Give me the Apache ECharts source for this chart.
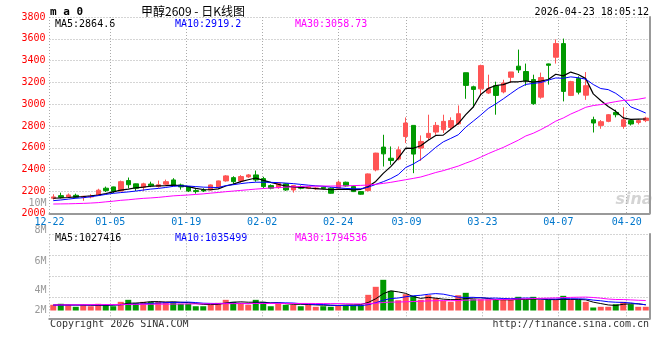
<!DOCTYPE html>
<html><head><meta charset="utf-8">
<script src="https://cdn.jsdelivr.net/npm/echarts@6/dist/echarts.min.js"></script>
<style>html,body{margin:0;padding:0;background:#fff}#c{width:660px;height:360px}</style>
</head><body><div id="c"></div>
<script>
const dates = ['12-22','12-23','12-24','12-25','12-26','12-29','12-30','12-31',
'01-05','01-06','01-07','01-08','01-09','01-12','01-13','01-14','01-15','01-16','01-19','01-20','01-21','01-22','01-23','01-26','01-27','01-28','01-29','01-30',
'02-02','02-03','02-04','02-05','02-06','02-09','02-10','02-11','02-12','02-13','02-24','02-25','02-26','02-27',
'03-02','03-03','03-04','03-05','03-06','03-09','03-10','03-11','03-12','03-13','03-16','03-17','03-18','03-19','03-20','03-23','03-24','03-25','03-26','03-27','03-30','03-31',
'04-01','04-02','04-03','04-07','04-08','04-09','04-10','04-13','04-14','04-15','04-16','04-17','04-20','04-21','04-22','04-23'];
const tickLabels = ['12-22','01-05','01-19','02-02','02-24','03-09','03-23','04-07','04-20'];

const opens = [2138,2162,2150,2165,2147,2150,2165,2230,2242,2205,
2300,2270,2240,2268,2245,2267,2306,2260,2245,2208,
2214,2214,2242,2297,2327,2297,2334,2352,2318,2254,
2235,2270,2214,2245,2230,2225,2238,2230,2230,2285,
2245,2199,2208,2398,2607,2505,2497,2704,2806,2598,
2695,2745,2766,2788,2820,3289,3160,3141,3103,3170,
3113,3247,3349,3300,3226,3065,3370,3431,3556,3081,
3235,3083,2858,2806,2843,2925,2797,2850,2833,2850];
const closes = [2150,2147,2168,2147,2156,2156,2212,2208,2200,2290,
2262,2230,2270,2252,2262,2290,2260,2242,2205,2199,
2205,2260,2297,2343,2290,2337,2352,2306,2245,2230,
2276,2214,2254,2230,2243,2232,2228,2184,2285,2251,
2199,2175,2361,2552,2545,2484,2582,2828,2543,2659,
2733,2806,2843,2850,2913,3173,3136,3354,3143,3081,
3195,3296,3315,3215,3005,3245,3357,3556,3118,3207,
3111,3170,2828,2840,2904,2904,2858,2819,2850,2873];
const lows = [2125,2137,2140,2138,2115,2138,2160,2195,2185,2200,
2230,2205,2205,2240,2235,2254,2250,2217,2195,2180,
2195,2210,2235,2290,2270,2280,2325,2290,2230,2220,
2225,2205,2190,2220,2222,2215,2220,2180,2225,2245,
2195,2170,2200,2385,2429,2444,2485,2644,2368,2481,
2674,2720,2736,2766,2812,3050,2971,3078,3094,2904,
3100,3195,3287,3170,2995,3050,3180,3373,3026,3075,
3090,3040,2741,2775,2835,2880,2775,2805,2815,2836];
const highs = [2175,2189,2182,2180,2160,2175,2225,2245,2245,2300,
2328,2272,2280,2290,2300,2309,2322,2272,2250,2222,
2230,2265,2300,2350,2340,2350,2360,2392,2335,2265,
2285,2275,2260,2255,2250,2240,2245,2238,2300,2290,
2255,2205,2365,2555,2720,2613,2613,2879,2806,2714,
2904,2837,2904,2880,2989,3289,3170,3363,3271,3207,
3225,3296,3501,3373,3271,3290,3373,3595,3602,3215,
3256,3295,2886,2855,2910,2950,2972,2858,2862,2885];

const ma5 = [2138,2141,2145,2150,2154,2159,2168,2180,2196,2212,
2222,2234,2240,2248,2252,2254,2258,2254,2245,2228,
2218,2216,2224,2250,2268,2291,2308,2324,2302,2283,
2266,2250,2242,2238,2232,2227,2222,2218,2220,2222,
2215,2220,2245,2292,2366,2428,2505,2598,2596,2619,
2669,2714,2717,2770,2823,2905,2975,3090,3145,3172,
3180,3205,3206,3215,3203,3212,3227,3275,3260,3295,
3273,3235,3095,3035,2980,2935,2875,2862,2864,2864.6];
const ma10 = [2116,2122,2130,2138,2143,2152,2162,2173,2183,2190,
2196,2204,2213,2222,2228,2237,2247,2252,2250,2245,
2240,2238,2236,2254,2262,2272,2280,2285,2285,2284,
2281,2277,2272,2265,2258,2252,2248,2240,2234,2228,
2225,2225,2240,2265,2290,2318,2355,2420,2452,2493,
2546,2605,2655,2687,2720,2790,2845,2901,2961,3003,
3049,3098,3146,3182,3191,3199,3221,3241,3238,3251,
3243,3230,3181,3144,3134,3100,3050,2976,2949,2919.2];
const ma30 = [2085,2086,2087,2089,2091,2094,2098,2105,2111,2119,
2124,2131,2137,2141,2146,2153,2160,2164,2168,2173,
2178,2185,2191,2198,2204,2210,2216,2222,2227,2232,
2236,2240,2243,2246,2248,2249,2250,2250,2251,2252,
2254,2256,2259,2266,2274,2284,2296,2308,2320,2333,
2353,2374,2391,2412,2433,2460,2485,2515,2547,2576,
2604,2637,2670,2709,2734,2767,2804,2845,2874,2910,
2940,2972,2988,2997,3011,3024,3035,3037,3046,3058.73];

const volumes = [1030000,1210000,1030000,670000,1030000,770000,1210000,1030000,770000,1560000,
1920000,1380000,1560000,1560000,1560000,1560000,1560000,1210000,1210000,770000,
770000,1030000,1380000,1920000,1560000,1380000,1030000,1920000,1560000,770000,
1210000,1030000,1030000,770000,1030000,670000,770000,670000,950000,950000,
950000,950000,2820000,4260000,5520000,3540000,1850000,2930000,2640000,1920000,
2750000,2210000,1740000,1560000,2750000,3180000,2030000,2030000,2030000,2030000,
2030000,1920000,2460000,1920000,2460000,1920000,1920000,1920000,2640000,1920000,
1920000,1560000,540000,670000,670000,1130000,1560000,1130000,670000,670000];
const volMa5 = [1000000,1020000,1010000,990000,990000,940000,940000,940000,960000,1070000,
1300000,1330000,1440000,1600000,1600000,1520000,1560000,1490000,1420000,1260000,
1100000,1070000,1100000,1330000,1490000,1560000,1490000,1490000,1490000,1370000,
1400000,1230000,1120000,1120000,1080000,1010000,960000,940000,920000,980000,
1020000,1070000,1450000,2110000,3020000,3540000,3350000,3080000,2500000,2180000,
2360000,2220000,2040000,1960000,1960000,2160000,2220000,2310000,2170000,1940000,
1940000,1910000,2000000,1980000,2060000,2060000,1960000,1960000,1990000,1990000,
1990000,1920000,1500000,1250000,1000000,910000,1120000,1210000,1210000,1027416];
const volMa10 = [960000,970000,980000,990000,1000000,1000000,1010000,1020000,1020000,1030000,
1120000,1140000,1190000,1280000,1330000,1410000,1450000,1460000,1510000,1430000,
1310000,1280000,1260000,1300000,1300000,1280000,1230000,1300000,1330000,1330000,
1380000,1380000,1340000,1230000,1170000,1100000,1080000,950000,890000,910000,
880000,870000,1050000,1400000,1850000,2140000,2250000,2470000,2640000,2740000,
2920000,3040000,2940000,2670000,2390000,2350000,2370000,2280000,2220000,2230000,
2160000,2130000,2200000,2240000,2210000,2080000,2070000,2060000,2120000,2110000,
2100000,2060000,1870000,1750000,1570000,1490000,1450000,1370000,1180000,1035499];
const volMa30 = [1000000,1010000,1020000,1030000,1040000,1050000,1060000,1070000,1080000,1090000,
1100000,1110000,1120000,1130000,1140000,1150000,1160000,1170000,1180000,1190000,
1200000,1210000,1220000,1230000,1240000,1250000,1250000,1260000,1260000,1260000,
1270000,1260000,1260000,1270000,1270000,1260000,1250000,1240000,1240000,1220000,
1190000,1180000,1220000,1310000,1440000,1510000,1520000,1570000,1620000,1660000,
1730000,1760000,1780000,1760000,1800000,1860000,1900000,1900000,1920000,1960000,
1990000,2020000,2060000,2100000,2150000,2190000,2230000,2270000,2330000,2360000,
2390000,2410000,2340000,2220000,2060000,1980000,1970000,1910000,1840000,1794536];

const volTickLabels = ['2M','4M','6M','8M','10M'];
const priceLabels = ['MA5:2864.6','MA10:2919.2','MA30:3058.73'];
const volLabels = ['MA5:1027416','MA10:1035499','MA30:1794536'];
const titleText = '甲醇2609 - 日K线图';
const stampText = '2026-04-23 18:05:12';

const RED = '#ff5555', GREEN = '#009900', GRIDC = '#aaaaaa', FRAME = '#999999';
const MONO = '"DejaVu Sans Mono", monospace';
const isTick = (idx) => tickLabels.indexOf(dates[idx]) >= 0;
const GL = 49.5, GR = 10.5;

// where the volume labels sit on the volume scale (millions), as in the picture
const volLabelAt = [0.1, 3.7, 8.9, 14.35, 19.3];

const chart = echarts.init(document.getElementById('c'), null, {renderer: 'canvas', width: 660, height: 360});
const dotted = {color: GRIDC, width: 1, type: [1, 2]};

const option = {
  animation: false,
  backgroundColor: '#fff',
  grid: [
    {left: GL, right: GR, top: 17, bottom: 146.7},
    {left: GL, right: GR, top: 234.3, bottom: 41.7},
    {left: GL, right: GR, top: 190, bottom: 41.7}
  ],
  xAxis: [
    {gridIndex: 0, type: 'category', data: dates, boundaryGap: true, show: false},
    {gridIndex: 0, type: 'category', data: dates, boundaryGap: false, position: 'bottom',
      axisLine: {show: true, lineStyle: {color: FRAME, width: 2}}, axisTick: {show: false},
      axisLabel: {interval: isTick, color: '#0077cc', fontFamily: MONO, fontSize: 10, margin: 4},
      splitLine: {show: true, interval: isTick, lineStyle: dotted}},
    {gridIndex: 1, type: 'category', data: dates, boundaryGap: true, show: false},
    {gridIndex: 1, type: 'category', data: dates, boundaryGap: false, position: 'bottom',
      axisLine: {show: true, lineStyle: {color: FRAME, width: 2}}, axisTick: {show: false},
      axisLabel: {show: false},
      splitLine: {show: true, interval: isTick, lineStyle: dotted}},
    {gridIndex: 1, type: 'category', data: dates, boundaryGap: false, position: 'top',
      axisLine: {show: true, lineStyle: {color: FRAME, width: 2}}, axisTick: {show: false},
      axisLabel: {show: false}, splitLine: {show: false}},
    {gridIndex: 2, type: 'category', data: dates, show: false}
  ],
  yAxis: [
    {gridIndex: 0, type: 'value', min: 2000, max: 3800, interval: 200,
      axisLine: {show: false}, axisTick: {show: false},
      axisLabel: {color: '#ff0000', fontFamily: MONO, fontSize: 10, margin: 4, padding: [0, 0, 4, 0],
        formatter: (v) => String(v)},
      splitLine: {show: true, lineStyle: dotted}},
    {gridIndex: 0, type: 'value', position: 'right', min: 2000, max: 3800,
      axisLine: {show: true, lineStyle: {color: FRAME, width: 2}}, axisTick: {show: false},
      axisLabel: {show: false}, splitLine: {show: false}},
    {gridIndex: 1, type: 'value', min: -1400000, max: 13700000, show: false, splitLine: {show: false}},
    {gridIndex: 1, type: 'value', min: 0, max: 4, interval: 1,
      axisLine: {show: true, lineStyle: {color: FRAME, width: 2}}, axisTick: {show: false},
      axisLabel: {show: false}, splitLine: {show: true, lineStyle: dotted}},
    {gridIndex: 1, type: 'value', position: 'right', min: 0, max: 4,
      axisLine: {show: true, lineStyle: {color: FRAME, width: 2}}, axisTick: {show: false},
      axisLabel: {show: false}, splitLine: {show: false}},
    {gridIndex: 2, type: 'value', min: -1.4, max: 21.67,
      axisLine: {show: false}, axisTick: {show: false}, splitLine: {show: false},
      axisLabel: {customValues: volLabelAt, color: '#999999', fontFamily: MONO, fontSize: 10, margin: 3,
        formatter: (v) => {
          let best = 0;
          volLabelAt.forEach((p, i) => { if (Math.abs(p - v) < Math.abs(volLabelAt[best] - v)) best = i; });
          return volTickLabels[best];
        }}}
  ],
  series: [
    {type: 'candlestick', xAxisIndex: 0, yAxisIndex: 0, barWidth: 5, clip: false,
      data: dates.map((d, i) => [opens[i], closes[i], lows[i], highs[i]]),
      itemStyle: {color: RED, color0: GREEN, borderColor: RED, borderColor0: GREEN, borderWidth: 1}},
    {type: 'line', xAxisIndex: 0, yAxisIndex: 0, data: ma5, symbol: 'none', lineStyle: {color: '#000000', width: 1.2}},
    {type: 'line', xAxisIndex: 0, yAxisIndex: 0, data: ma10, symbol: 'none', lineStyle: {color: '#0000ff', width: 1}},
    {type: 'line', xAxisIndex: 0, yAxisIndex: 0, data: ma30, symbol: 'none', lineStyle: {color: '#ff00ff', width: 1}},
    {type: 'bar', xAxisIndex: 2, yAxisIndex: 2, barWidth: 6,
      data: volumes.map((v, i) => ({value: v, itemStyle: {color: closes[i] >= opens[i] ? RED : GREEN}}))},
    {type: 'line', xAxisIndex: 2, yAxisIndex: 2, data: volMa5, symbol: 'none', lineStyle: {color: '#000000', width: 1}},
    {type: 'line', xAxisIndex: 2, yAxisIndex: 2, data: volMa10, symbol: 'none', lineStyle: {color: '#0000ff', width: 1}},
    {type: 'line', xAxisIndex: 2, yAxisIndex: 2, data: volMa30, symbol: 'none', lineStyle: {color: '#ff00ff', width: 1}}
  ],
  graphic: [
    {type: 'text', x: 50, y: 12, style: {text: 'm a 0', font: 'bold 11px ' + MONO, fill: '#000', verticalAlign: 'middle', textVerticalAlign: 'middle'}},
    {type: 'text', x: 141, y: 11, style: {text: titleText, font: '12px "Noto Sans CJK SC"', fill: '#000', verticalAlign: 'middle', textVerticalAlign: 'middle'}},
    {type: 'text', x: 649, y: 12, style: {text: stampText, font: '10px ' + MONO, fill: '#000', align: 'right', textAlign: 'right', verticalAlign: 'middle', textVerticalAlign: 'middle'}},
    {type: 'text', x: 55, y: 24, style: {text: priceLabels[0], font: '10px ' + MONO, fill: '#000000', verticalAlign: 'middle', textVerticalAlign: 'middle'}},
    {type: 'text', x: 175, y: 24, style: {text: priceLabels[1], font: '10px ' + MONO, fill: '#0000ff', verticalAlign: 'middle', textVerticalAlign: 'middle'}},
    {type: 'text', x: 295, y: 24, style: {text: priceLabels[2], font: '10px ' + MONO, fill: '#ff00ff', verticalAlign: 'middle', textVerticalAlign: 'middle'}},
    {type: 'text', x: 55, y: 238, style: {text: volLabels[0], font: '10px ' + MONO, fill: '#000000', verticalAlign: 'middle', textVerticalAlign: 'middle'}},
    {type: 'text', x: 175, y: 238, style: {text: volLabels[1], font: '10px ' + MONO, fill: '#0000ff', verticalAlign: 'middle', textVerticalAlign: 'middle'}},
    {type: 'text', x: 295, y: 238, style: {text: volLabels[2], font: '10px ' + MONO, fill: '#ff00ff', verticalAlign: 'middle', textVerticalAlign: 'middle'}},
    {type: 'text', x: 50, y: 324, style: {text: 'Copyright 2026 SINA.COM', font: '10px ' + MONO, fill: '#333', verticalAlign: 'middle', textVerticalAlign: 'middle'}},
    {type: 'text', x: 649, y: 324, style: {text: 'http://finance.sina.com.cn', font: '10px ' + MONO, fill: '#333', align: 'right', textAlign: 'right', verticalAlign: 'middle', textVerticalAlign: 'middle'}},
    {type: 'text', x: 634, y: 200, style: {text: 'sina', font: 'italic bold 16px "DejaVu Sans"', fill: 'rgba(160,160,160,0.45)', align: 'center', textAlign: 'center', verticalAlign: 'middle', textVerticalAlign: 'middle'}}
  ]
};
chart.setOption(option);
</script>
</body></html>
